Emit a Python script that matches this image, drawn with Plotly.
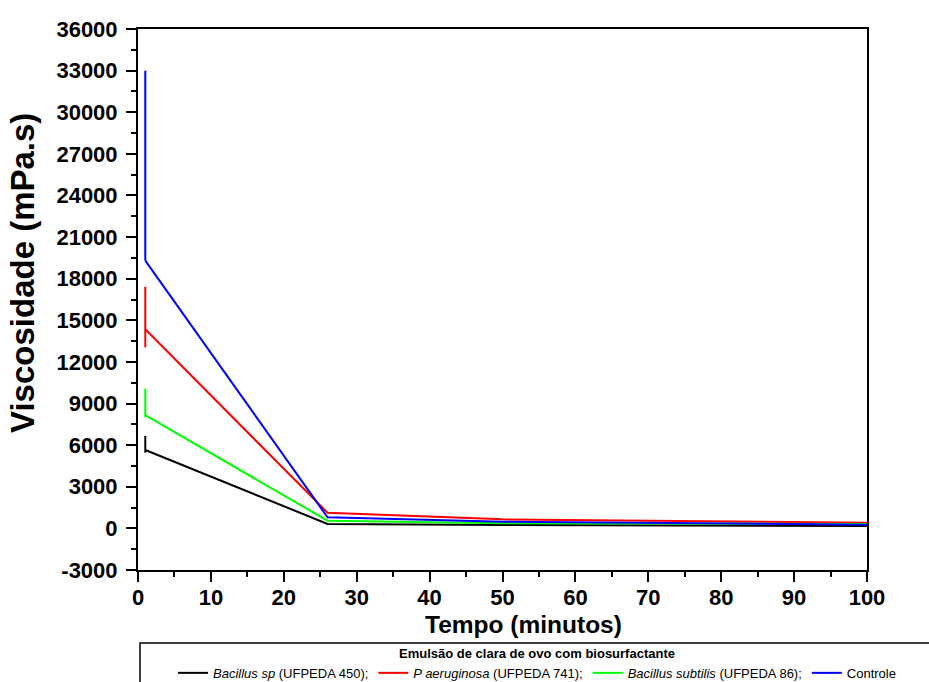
import plotly.graph_objects as go

# Data
tempo = [1, 26, 50, 100]
bacillus_sp = [5650, 320, 245, 170]
bacillus_sp_plus = [1010, 0, 0, 0]
bacillus_sp_minus = [190, 0, 0, 0]
p_aeruginosa = [14350, 1130, 650, 410]
p_aeruginosa_plus = [3070, 0, 0, 0]
p_aeruginosa_minus = [1300, 0, 0, 0]
bacillus_subtilis = [8170, 555, 370, 320]
bacillus_subtilis_plus = [1900, 0, 0, 0]
bacillus_subtilis_minus = [150, 0, 0, 0]
controle = [19300, 800, 480, 270]
controle_plus = [13700, 0, 0, 0]
controle_minus = [0, 0, 0, 0]

y_tickvals = [-3000, 0, 3000, 6000, 9000, 12000, 15000, 18000, 21000, 24000, 27000, 30000, 33000, 36000]
y_ticktext = ["-3000", "0", "3000", "6000", "9000", "12000", "15000", "18000", "21000",
              "24000", "27000", "30000", "33000", "36000"]

series = [
    ("<i>Bacillus sp</i> (UFPEDA 450);", bacillus_sp, bacillus_sp_plus, bacillus_sp_minus, "#000000"),
    ("<i>P aeruginosa</i> (UFPEDA 741);", p_aeruginosa, p_aeruginosa_plus, p_aeruginosa_minus, "#FF0000"),
    ("<i>Bacillus subtilis</i> (UFPEDA 86);", bacillus_subtilis, bacillus_subtilis_plus, bacillus_subtilis_minus, "#00FF00"),
    ("Controle", controle, controle_plus, controle_minus, "#0000FF"),
]

FONT = "Arial, Liberation Sans, sans-serif"

fig = go.Figure()
for name, y, plus, minus, color in series:
    fig.add_trace(go.Scatter(
        x=tempo, y=y, name=name, mode="lines",
        line=dict(color=color, width=2),
        error_y=dict(type="data", symmetric=False, array=plus, arrayminus=minus,
                     color=color, thickness=2, width=0),
    ))

axis_common = dict(
    showline=True, linecolor="black", linewidth=2, mirror=True,
    ticks="outside", ticklen=10, tickwidth=2, tickcolor="black",
    showgrid=False, zeroline=False,
    tickfont=dict(family=FONT, size=22, color="black", weight="bold"),
)

fig.update_xaxes(range=[0, 100], dtick=10, tick0=0,
                 minor=dict(dtick=5, ticks="outside", ticklen=5, tickwidth=2, tickcolor="black"),
                 ticklabelstandoff=-3, **axis_common)
fig.update_yaxes(range=[-3000, 36000], tickmode="array", tickvals=y_tickvals, ticktext=y_ticktext,
                 minor=dict(dtick=1500, tick0=0, ticks="outside", ticklen=5, tickwidth=2, tickcolor="black"),
                 ticklabelstandoff=4, **axis_common)

fig.add_annotation(text="<b>Viscosidade (mPa.s)</b>", textangle=-90,
                   xref="paper", yref="paper", x=(22 - 138) / 729, y=(570 - 273) / 541,
                   xanchor="center", yanchor="middle", showarrow=False,
                   font=dict(family=FONT, size=33, color="black"))
fig.add_annotation(text="<b>Tempo (minutos)</b>",
                   xref="paper", yref="paper", x=(523 - 138) / 729, y=(570 - 624) / 541,
                   xanchor="center", yanchor="middle", showarrow=False,
                   font=dict(family=FONT, size=24.5, color="black"))

# legend frame
fig.add_shape(type="rect", xref="paper", yref="paper",
              x0=(140 - 138) / 729, x1=(940 - 138) / 729,
              y0=(570 - 700) / 541, y1=(570 - 643) / 541,
              line=dict(color="black", width=1.5), fillcolor="rgba(0,0,0,0)", layer="above")

fig.update_layout(
    width=929, height=682,
    margin=dict(l=138, r=62, t=29, b=112, autoexpand=False),
    plot_bgcolor="white", paper_bgcolor="white",
    font=dict(family=FONT, color="black"),
    showlegend=True,
    legend=dict(
        orientation="h", x=(537 - 138) / 729, xanchor="center",
        y=(570 - 641) / 541, yanchor="top",
        bgcolor="rgba(0,0,0,0)", borderwidth=0,
        font=dict(family=FONT, size=13, color="black"),
        title=dict(text="<b>Emulsão de clara de ovo com biosurfactante</b>", side="top center",
                   font=dict(family=FONT, size=13, color="black")),
        itemwidth=30, tracegroupgap=0,
    ),
)

fig.write_html("out.html")
